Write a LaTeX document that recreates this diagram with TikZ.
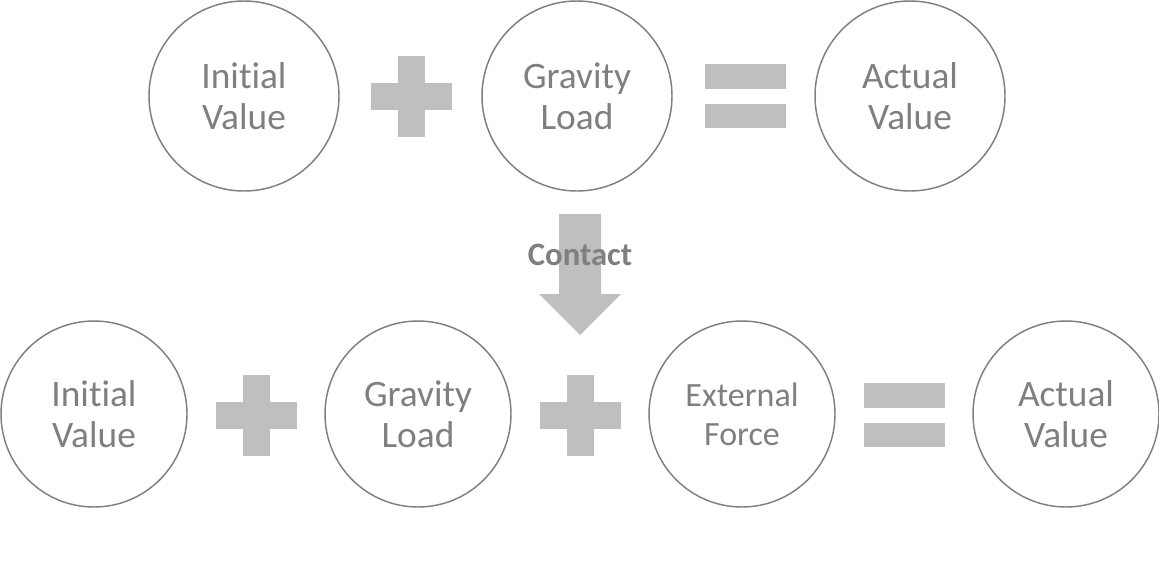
\documentclass[tikz,border=0pt]{standalone}
\usepackage{fontspec}
\setmainfont{Carlito}[RawFeature={-liga}]
\definecolor{txt}{HTML}{7F7F7F}
\definecolor{sym}{HTML}{BFBFBF}
\begin{document}
\begin{tikzpicture}[x=0.75pt,y=-0.75pt,
  circbase/.style={circle,draw=txt,line width=1.1pt,inner sep=0pt,text=txt,align=center},
  bigcirc/.style={circbase,minimum size=142.5pt,font=\fontsize{28}{30.75}\selectfont},
  smallcirc/.style={circbase,minimum size=139.5pt,font=\fontsize{28}{30.75}\selectfont},
  smallfont/.style={font=\fontsize{25.5}{29}\selectfont},
  plussign/.pic={\fill[sym] (-40.5,-13.5) rectangle (40.5,13.5);
                 \fill[sym] (-13.5,-40.5) rectangle (13.5,40.5);},
  equalsign/.pic={\fill[sym] (-40.5,-32) rectangle (40.5,-7.5);
                  \fill[sym] (-40.5,7.5) rectangle (40.5,32);}
]
\useasboundingbox (0,0) rectangle (1159,568);
% top row
\node[bigcirc] (ti) at (244,96) {Initial\\Value};
\node[bigcirc] (tg) at (577,96) {Gravity\\Load};
\node[bigcirc] (ta) at (910,96) {Actual\\Value};
\pic at (411,96) {plussign};
\pic at (745,96) {equalsign};
% arrow
\fill[sym] (559,214) -- (601,214) -- (601,294) -- (621,294) -- (580,335) -- (539,294) -- (559,294) -- cycle;
\node[text=txt,font=\fontsize{24.5}{29}\selectfont\bfseries] (contact) at (580,255) {Contact};
% bottom row
\node[smallcirc] (bi) at (94,414) {Initial\\Value};
\node[smallcirc] (bg) at (418,414) {Gravity\\Load};
\node[smallcirc,smallfont] (be) at (742,414) {External\\Force};
\node[smallcirc] (ba) at (1066,414) {Actual\\Value};
\pic at (256,415) {plussign};
\pic at (580,415) {plussign};
\pic at (904,415) {equalsign};
\end{tikzpicture}
\end{document}
